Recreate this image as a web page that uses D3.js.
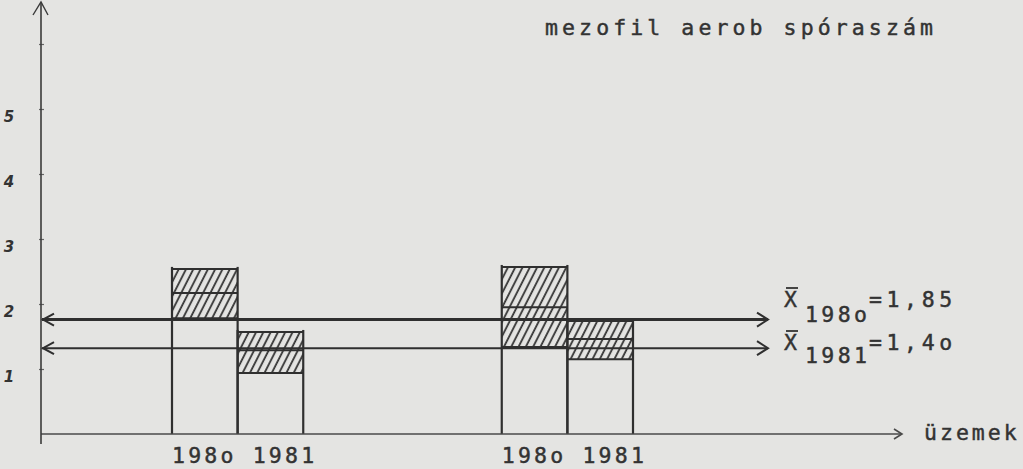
<!DOCTYPE html>
<html><head><meta charset="utf-8">
<script src="https://cdn.jsdelivr.net/npm/d3@7"></script>
<style>
html,body{margin:0;padding:0;background:#e4e4e2;}
svg{display:block;}
</style></head>
<body>
<svg id="chart" width="1023" height="469"></svg>
<script>
// ---- data ----
const plants = ["üzem 1", "üzem 2"];
const years = ["198o", "1981"];
// low / mid / high of hatched range, per plant, per year
const lowValues  = [[1.78, 0.94], [1.34, 1.15]];
const midValues  = [[2.17, 1.29], [1.95, 1.46]];
const highValues = [[2.54, 1.57], [2.57, 1.74]];
const meanYears = ["198o", "1981"];
const meanLine  = [1.76, 1.32];
const meanLabel = ["=1,85", "=1,4o"];
const yTicks = [1, 2, 3, 4, 5, 6];
const yTickLabels = ["1", "2", "3", "4", "5", ""];
const title = "mezofil aerob spóraszám";
const xTitle = "üzemek";

// ---- layout ----
const svg = d3.select("#chart");
const ink = "#2f2f2f";
const mono = "'DejaVu Sans Mono', monospace";
const fs = 21.5, ls = 4.1;

const y = d3.scaleLinear().domain([0, 5]).range([434, 109]);
const x0 = d3.scaleBand().domain(plants).range([172, 633]).paddingInner(0.602).paddingOuter(0);
const x1 = d3.scaleBand().domain(years).range([0, x0.bandwidth()]).padding(0);
const axisX = 41;

function typed(sel) {
  return sel.attr("font-family", mono).attr("font-size", fs).attr("fill", "#333")
    .attr("stroke", "#333").attr("stroke-width", 0.45);
}

// hatch pattern
const defs = svg.append("defs");
const pat = defs.append("pattern").attr("id", "hatch")
  .attr("patternUnits", "userSpaceOnUse").attr("width", 6.5).attr("height", 10)
  .attr("patternTransform", "rotate(27)");
pat.append("line").attr("x1", 2).attr("y1", -2).attr("x2", 2).attr("y2", 12)
  .attr("stroke", "#333").attr("stroke-width", 1.8);

// bars
const records = [];
plants.forEach((p, i) => years.forEach((yr, j) => records.push({
  plant: p, year: yr, low: lowValues[i][j], mid: midValues[i][j], high: highValues[i][j]
})));

const bars = svg.append("g");
records.forEach(d => {
  const xl = x0(d.plant) + x1(d.year), xr = xl + x1.bandwidth();
  bars.append("rect").attr("x", xl).attr("y", y(d.high))
    .attr("width", xr - xl).attr("height", y(d.low) - y(d.high))
    .attr("fill", "url(#hatch)");
  [d.high, d.mid, d.low].forEach(v => bars.append("line")
    .attr("x1", xl).attr("x2", xr).attr("y1", y(v)).attr("y2", y(v))
    .attr("stroke", ink).attr("stroke-width", 2));
  [xl, xr].forEach(xx => bars.append("line")
    .attr("x1", xx).attr("x2", xx).attr("y1", y(d.high) - 2).attr("y2", y(0))
    .attr("stroke", ink).attr("stroke-width", 2.2));
});

// x axis baseline with arrow
svg.append("line").attr("x1", axisX).attr("x2", 902).attr("y1", y(0)).attr("y2", y(0))
  .attr("stroke", "#4a4a4a").attr("stroke-width", 1.6);
svg.append("path").attr("d", `M894,${y(0) - 5} L902,${y(0)} L894,${y(0) + 5}`)
  .attr("fill", "none").attr("stroke", "#4a4a4a").attr("stroke-width", 1.6);
typed(svg.append("text").attr("x", 924).attr("y", 440).text(xTitle)).attr("letter-spacing", 3);

// y axis
const yAxis = d3.axisLeft(y).tickValues(yTicks).tickSize(0).tickFormat((d, i) => yTickLabels[i]);
const gy = svg.append("g").attr("transform", `translate(${axisX},0)`).call(yAxis);
gy.select(".domain").remove();
gy.selectAll(".tick text").attr("x", -32).attr("dy", "0.8em").attr("text-anchor", "middle")
  .attr("font-family", "'DejaVu Sans', sans-serif").attr("font-style", "italic")
  .attr("font-weight", "bold").attr("font-size", 15).attr("fill", "#333");
gy.selectAll(".tick").append("line").attr("x1", -2).attr("x2", 3).attr("stroke", "#666").attr("stroke-width", 1.2);
svg.append("line").attr("x1", axisX).attr("x2", axisX).attr("y1", 2).attr("y2", 444)
  .attr("stroke", "#3a3a3a").attr("stroke-width", 1.6);
svg.append("path").attr("d", `M33,15 L${axisX},2 L48,15`)
  .attr("fill", "none").attr("stroke", "#3a3a3a").attr("stroke-width", 1.4);

// mean lines with arrows
meanLine.forEach((m, i) => {
  const yy = y(m), w = i === 0 ? 3 : 2;
  const g = svg.append("g").attr("stroke", ink).attr("fill", "none");
  g.append("line").attr("x1", axisX + 1).attr("x2", 768).attr("y1", yy).attr("y2", yy).attr("stroke-width", w);
  g.append("path").attr("d", `M54,${yy - 6} L${axisX + 2},${yy} L54,${yy + 6}`).attr("stroke-width", 2);
  g.append("path").attr("d", `M757,${yy - 7} L768,${yy} L757,${yy + 7}`).attr("stroke-width", 2);
});

// legend texts
const legY = [307, 350];
const subY = [322, 363];
meanYears.forEach((yr, i) => {
  const g = svg.append("g");
  typed(g.append("text").attr("x", 784).attr("y", legY[i]).text("X"));
  g.append("line").attr("x1", 786).attr("x2", 798).attr("y1", legY[i] - 19).attr("y2", legY[i] - 19)
    .attr("stroke", "#333").attr("stroke-width", 1.8);
  typed(g.append("text").attr("x", 805).attr("y", subY[i]).text(yr)).attr("letter-spacing", 3.4);
  typed(g.append("text").attr("x", 869).attr("y", legY[i]).text(meanLabel[i])).attr("letter-spacing", 4.6);
});

// title
typed(svg.append("text").attr("x", 545).attr("y", 35).text(title)).attr("letter-spacing", ls);

// x category labels
plants.forEach(p => {
  typed(svg.append("text").attr("x", x0(p)).attr("y", 463).text(years.join(" "))).attr("letter-spacing", 3.2);
});
</script>
</body></html>
